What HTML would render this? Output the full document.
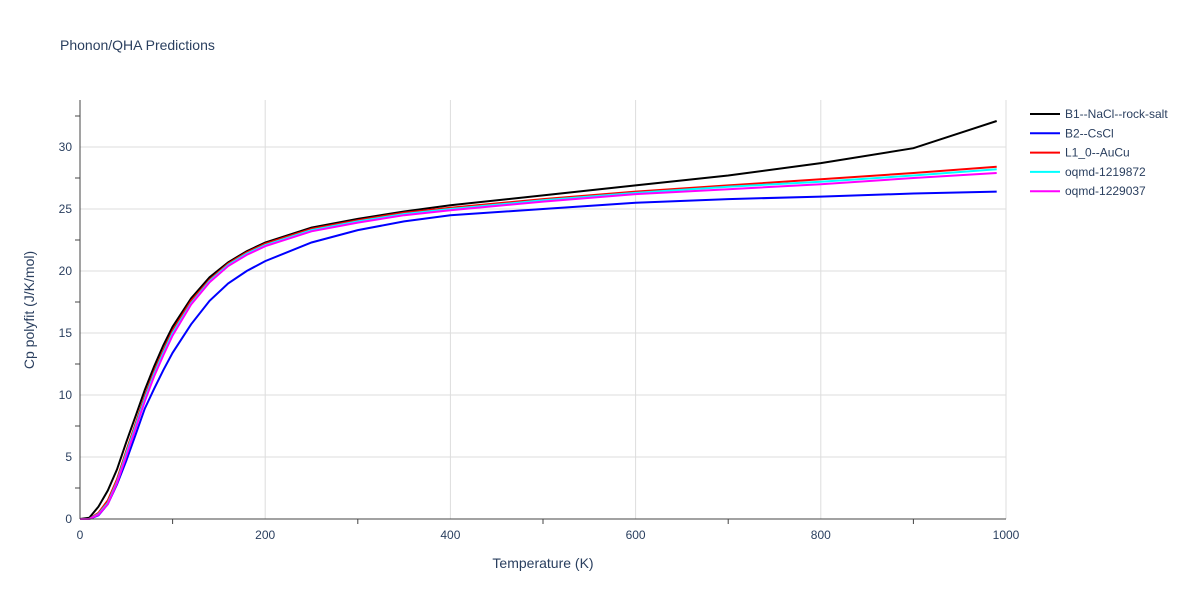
<!DOCTYPE html>
<html><head><meta charset="utf-8"><style>
body{margin:0;background:#fff;font-family:"Liberation Sans",sans-serif;}
svg text{font-family:"Liberation Sans",sans-serif;fill:#2a3f5f;}
</style></head><body>
<svg id="chart" width="1200" height="600" xmlns="http://www.w3.org/2000/svg">
<rect width="1200" height="600" fill="#fff"/>
<text x="60" y="50" font-size="14">Phonon/QHA Predictions</text>
<g id="grid"></g><g id="series"></g><g id="axes"></g><g id="legend"></g>
<text x="543" y="568" font-size="14" text-anchor="middle">Temperature (K)</text>
<text x="34" y="310" font-size="14" text-anchor="middle" transform="rotate(-90 34 310)">Cp polyfit (J/K/mol)</text>
</svg>
<script>
const temps=[0,10,20,30,40,50,60,70,80,90,100,120,140,160,180,200,250,300,350,400,500,600,700,800,900,990];
const b1=[0,0.1,1,2.3,4,6.2,8.3,10.4,12.3,14,15.5,17.8,19.5,20.7,21.6,22.3,23.5,24.2,24.8,25.3,26.1,26.9,27.7,28.7,29.9,32.1];
const b2=[0,0,0.3,1.2,2.8,4.7,6.8,8.9,10.5,12.0,13.4,15.7,17.6,19.0,20.0,20.8,22.3,23.3,24.0,24.5,25.0,25.5,25.8,26.0,26.25,26.4];
const l10=[0,0,0.5,1.5,3.2,5.5,7.7,9.9,11.9,13.6,15.2,17.6,19.3,20.6,21.5,22.2,23.4,24.1,24.7,25.1,25.8,26.4,26.9,27.4,27.9,28.4];
const oq1=[0,0,0.4,1.3,3.0,5.3,7.5,9.7,11.7,13.4,15.0,17.4,19.2,20.5,21.4,22.1,23.3,24.0,24.6,25.0,25.7,26.3,26.8,27.2,27.7,28.2];
const oq2=[0,0,0.35,1.2,2.9,5.1,7.3,9.5,11.5,13.2,14.8,17.3,19.1,20.4,21.3,22.0,23.2,23.9,24.5,24.9,25.6,26.2,26.6,27.0,27.5,27.9];
const xTicks=[0,200,400,600,800,1000];
const yTicks=[0,5,10,15,20,25,30];
const seriesNames=["B1--NaCl--rock-salt","B2--CsCl","L1_0--AuCu","oqmd-1219872","oqmd-1229037"];
const seriesData=[b1,b2,l10,oq1,oq2];
const colors=["#000000","#0000ff","#ff0000","#00ffff","#ff00ff"];
const X0=80,X1=1006,Y0=519,YT=100;
const xs=v=>X0+(v/1000)*(X1-X0);
const ys=v=>Y0-v*12.4;
const NS="http://www.w3.org/2000/svg";
function mk(t,a,p){const e=document.createElementNS(NS,t);for(const k in a)e.setAttribute(k,a[k]);p.appendChild(e);return e;}
const grid=document.getElementById('grid'),axes=document.getElementById('axes'),ser=document.getElementById('series'),leg=document.getElementById('legend');
xTicks.forEach(t=>{
 if(t>0){const l=mk('line',{x1:xs(t),x2:xs(t),y1:YT,y2:Y0,stroke:'#ddd'},grid);
 
 }
 const tx=mk('text',{x:xs(t),y:Y0+20,'font-size':12,'text-anchor':'middle'},axes);tx.textContent=t;
 
 
});
for(let t=100;t<1000;t+=200){mk('line',{x1:xs(t),x2:xs(t),y1:Y0,y2:Y0+5,stroke:'#444'},axes);}
yTicks.forEach(t=>{
 if(t>0){const l=mk('line',{x1:X0,x2:X1,y1:ys(t),y2:ys(t),stroke:'#ddd'},grid);
 
 }
 const tx=mk('text',{x:X0-8,y:ys(t)+4,'font-size':12,'text-anchor':'end'},axes);tx.textContent=t;
 
 
});
for(let t=2.5;t<33;t+=5){mk('line',{x1:X0-5,x2:X0,y1:ys(t),y2:ys(t),stroke:'#444'},axes);}
mk('line',{x1:X0,x2:X0,y1:YT,y2:Y0,stroke:'#444'},axes);
mk('line',{x1:X0,x2:X1,y1:Y0,y2:Y0,stroke:'#444'},axes);
seriesData.forEach((d,i)=>{
 const pts=d.map((v,j)=>xs(temps[j]).toFixed(1)+','+ys(v).toFixed(1)).join(' ');
 const p=mk('polyline',{points:pts,fill:'none',stroke:colors[i],'stroke-width':2},ser);
 
 
 const y=114+i*19.3;
 const g=mk('g',{},leg);
 
 
 mk('line',{x1:1030,x2:1060,y1:y,y2:y,stroke:colors[i],'stroke-width':2},g);
 const t=mk('text',{x:1065,y:y+4,'font-size':12},g);t.textContent=seriesNames[i];
});
</script>
</body></html>
